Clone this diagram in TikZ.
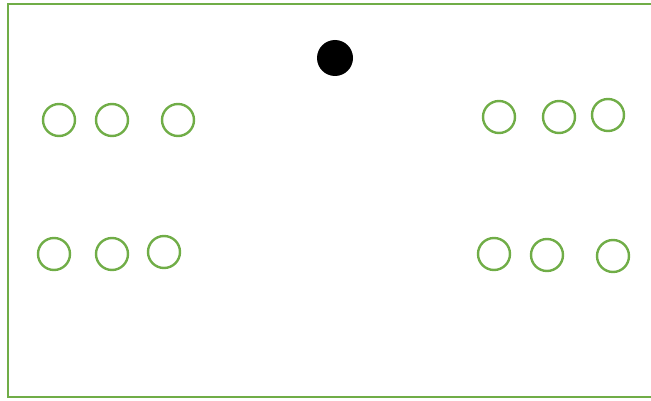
\documentclass[tikz,border=0pt]{standalone}
\usepackage{xcolor}
\usepackage{tikz}
\usetikzlibrary{positioning}
\definecolor{Leaf}{HTML}{70AD47}

\begin{document}
\begin{tikzpicture}[
  x=1pt, y=-1pt,
  seat/.style={circle, draw=Leaf, line width=2.4pt, minimum size=32pt, inner sep=0pt},
  ball/.style={circle, fill=black, minimum size=36pt, inner sep=0pt}
]
\clip (0,0) rectangle (651,401);
\useasboundingbox (0,0) rectangle (651,401);
\draw[Leaf, line width=2.4pt] (8,4) rectangle (660,397);
\node[ball] (ball) at (335,58) {};
% left team
\node[seat] (lt1) at (59,120) {};
\node[seat] (lt2) at (112,120) {};
\node[seat] (lt3) at (178,120) {};
\node[seat] (lb1) at (54,254) {};
\node[seat] (lb2) at (112,254) {};
\node[seat] (lb3) at (164,252) {};
% right team
\node[seat] (rt1) at (499,117) {};
\node[seat] (rt2) at (559,117) {};
\node[seat] (rt3) at (608,115) {};
\node[seat] (rb1) at (494,254) {};
\node[seat] (rb2) at (547,255) {};
\node[seat] (rb3) at (613,256) {};
\end{tikzpicture}
\end{document}
